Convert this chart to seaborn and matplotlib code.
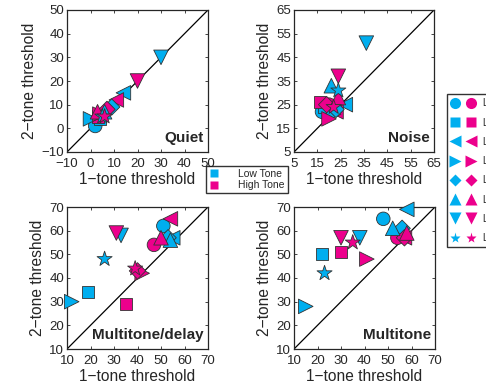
import numpy as np
import pandas as pd
import matplotlib
matplotlib.use("Agg")
import matplotlib.pyplot as plt
import seaborn as sns
from matplotlib.lines import Line2D
from matplotlib.legend_handler import HandlerTuple

listeners = ["L1", "L2", "L3", "L4", "L5", "L6", "L7", "L8"]
tones = ["Low Tone", "High Tone"]
panels = ["Quiet", "Noise", "Multitone/delay", "Multitone"]

# 1-tone / 2-tone thresholds, per panel, per listener
quiet_low_x = [2, 4, 14, 0, 9, 6, 30, 5]
quiet_low_y = [1, 4, 15, 4, 9, 7, 30, 5]
quiet_high_x = [4, 3, 11, 4, 7, 3, 20, 6]
quiet_high_y = [4, 5, 12, 6, 8, 7, 20, 5]

noise_low_x = [17, 18, 27, 22, 23, 21, 36, 24]
noise_low_y = [22, 24, 25, 21, 23, 33, 51, 31]
noise_high_x = [20, 16, 23, 20, 19, 24, 24, 22]
noise_high_y = [25, 26, 22, 19, 25, 28, 37, 24]

mtd_low_x = [51, 19, 55, 12, 53, 54, 33, 26]
mtd_low_y = [62, 34, 57, 30, 57, 56, 58, 48]
mtd_high_x = [47, 35, 54, 42, 40, 50, 31, 39]
mtd_high_y = [54, 29, 65, 42, 43, 57, 59, 44]

mt_low_x = [48, 22, 58, 15, 56, 52, 38, 23]
mt_low_y = [65, 50, 69, 28, 61, 61, 57, 42]
mt_high_x = [54, 30, 57, 41, 57, 58, 30, 35]
mt_high_y = [57, 51, 57, 48, 57, 59, 57, 55]

limits = [(-10, 50), (5, 65), (10, 70), (10, 70)]
ticks = [list(range(-10, 51, 10)), list(range(5, 66, 10)),
         list(range(10, 71, 10)), list(range(10, 71, 10))]

all_x = [(quiet_low_x, quiet_high_x), (noise_low_x, noise_high_x),
         (mtd_low_x, mtd_high_x), (mt_low_x, mt_high_x)]
all_y = [(quiet_low_y, quiet_high_y), (noise_low_y, noise_high_y),
         (mtd_low_y, mtd_high_y), (mt_low_y, mt_high_y)]

cyan = "#00AEEF"
magenta = "#EC008C"
palette = {"Low Tone": cyan, "High Tone": magenta}
marker_map = {"L1": "o", "L2": "s", "L3": "<", "L4": ">",
              "L5": "D", "L6": "^", "L7": "v", "L8": "*"}
size_map = {"L1": 95, "L2": 75, "L3": 110, "L4": 110,
            "L5": 70, "L6": 110, "L7": 110, "L8": 130}

sns.set_style("ticks")
plt.rcParams["font.family"] = ["Liberation Sans", "DejaVu Sans"]

fig = plt.figure(figsize=(4.86, 3.85), dpi=100)
rects = [
    [67 / 486, 1 - 152 / 385, 141 / 486, 142 / 385],
    [294 / 486, 1 - 152 / 385, 140 / 486, 142 / 385],
    [67 / 486, 1 - 349 / 385, 141 / 486, 142 / 385],
    [294 / 486, 1 - 349 / 385, 141 / 486, 142 / 385],
]

for i, name in enumerate(panels):
    ax = fig.add_axes(rects[i])
    rows = []
    for t, tone in enumerate(tones):
        for j, lst in enumerate(listeners):
            rows.append({"x": all_x[i][t][j], "y": all_y[i][t][j],
                         "tone": tone, "listener": lst})
    df = pd.DataFrame(rows)
    lo, hi = limits[i]
    ax.plot([lo, hi], [lo, hi], color="black", lw=0.9, zorder=1)
    for lst in listeners:
        sub = df[df["listener"] == lst]
        sns.scatterplot(data=sub, x="x", y="y", hue="tone", palette=palette,
                        marker=marker_map[lst], s=size_map[lst],
                        edgecolor="#333333", linewidth=0.6, ax=ax,
                        legend=False, zorder=3, clip_on=False)
    ax.set_xlim(lo, hi)
    ax.set_ylim(lo, hi)
    ax.set_xticks(ticks[i])
    ax.set_yticks(ticks[i])
    ax.tick_params(direction="in", top=True, right=True, labelsize=9.5,
                   length=2.5, width=0.6)
    ax.tick_params(axis="x", pad=4)
    ax.tick_params(axis="y", pad=2)
    for sp in ax.spines.values():
        sp.set_linewidth(0.9)
    ax.set_xlabel("1\u2212tone threshold", fontsize=11.2, labelpad=2)
    ax.set_ylabel("2\u2212tone threshold", fontsize=11.2, labelpad=3)
    ax.text(0.97, 0.05, name, transform=ax.transAxes, ha="right",
            va="bottom", fontsize=11, fontweight="bold", zorder=5)

tone_handles = [Line2D([], [], marker="s", color="none", markerfacecolor=c,
                       markeredgecolor="none", markersize=5.5)
                for c in (cyan, magenta)]
fig.legend(tone_handles, tones, loc="upper left",
           bbox_to_anchor=(206 / 486, 1 - 166 / 385), fontsize=7.5,
           frameon=True, fancybox=False, edgecolor="black",
           handlelength=1.0, handletextpad=1.8, borderpad=0.3,
           labelspacing=0.1, borderaxespad=0)

lst_handles = []
for lst in listeners:
    m = marker_map[lst]
    ms = 8 if m != "s" else 6.5
    if m == "D":
        ms = 6
    h1 = Line2D([], [], marker=m, color="none", markerfacecolor=cyan,
                markeredgecolor="none", markersize=ms)
    h2 = Line2D([], [], marker=m, color="none", markerfacecolor=magenta,
                markeredgecolor="none", markersize=ms)
    lst_handles.append((h1, h2))
fig.legend(lst_handles, listeners, loc="upper left",
           bbox_to_anchor=(447 / 486, 1 - 94 / 385), fontsize=7,
           handler_map={tuple: HandlerTuple(ndivide=None, pad=0.9)},
           frameon=True, fancybox=False, edgecolor="black",
           handlelength=2.4, handletextpad=0.75, borderpad=0.45,
           labelspacing=0.95, borderaxespad=0)

fig.savefig("out.png", dpi=100)
